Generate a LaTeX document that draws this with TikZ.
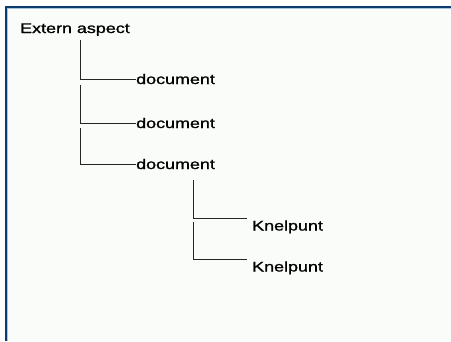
\documentclass[tikz,border=0pt]{standalone}
\usepackage{fontspec}
\setmainfont{Liberation Sans}[FakeStretch=1.28,FakeBold=1.2]
\definecolor{frameblue}{HTML}{0D3B6E}
\definecolor{framelight}{HTML}{A9C6DE}
\definecolor{paper}{HTML}{FAFCF9}
\tikzset{
  lbl/.style={inner sep=0pt, anchor=base west, font=\fontsize{14}{16}\selectfont, text=black},
  klbl/.style={lbl, inner xsep=5pt, inner ysep=1.5pt},
  conn/.style={draw=black!85, line width=1pt}
}
\begin{document}
\begin{tikzpicture}[x=1pt,y=-1pt]
\useasboundingbox (0,0) rectangle (451,341);
\fill[white] (0,0) rectangle (451,341);
\fill[paper] (6,7) rectangle (451,341);
\draw[framelight, line width=1pt] (451,8.8) -- (7.5,8.8) -- (7.5,341);
\draw[frameblue, line width=2pt] (6,341) -- (6,7) -- (451,7);
% nodes
\node[lbl] (ea) at (20,33) {Extern aspect};
\node[lbl] (d1) at (136,84) {document};
\node[lbl] (d2) at (136,128) {document};
\node[lbl] (d3) at (136,169) {document};
\node[klbl] (k1) at (247,230.5) {Knelpunt};
\node[klbl] (k2) at (247,271.5) {Knelpunt};
% connector tops
\coordinate (t1) at (80.5,40);
\coordinate (t2) at (80.5,85);
\coordinate (t3) at (80.5,128);
\coordinate (t4) at (193.5,180);
\coordinate (t5) at (193.5,222);
% connectors
\draw[conn] (t1) |- (d1.west);
\draw[conn] (t2) |- (d2.west);
\draw[conn] (t3) |- (d3.west);
\draw[conn] (t4) |- (k1.north west);
\draw[conn] (t5) |- (k2.north west);
\end{tikzpicture}
\end{document}
